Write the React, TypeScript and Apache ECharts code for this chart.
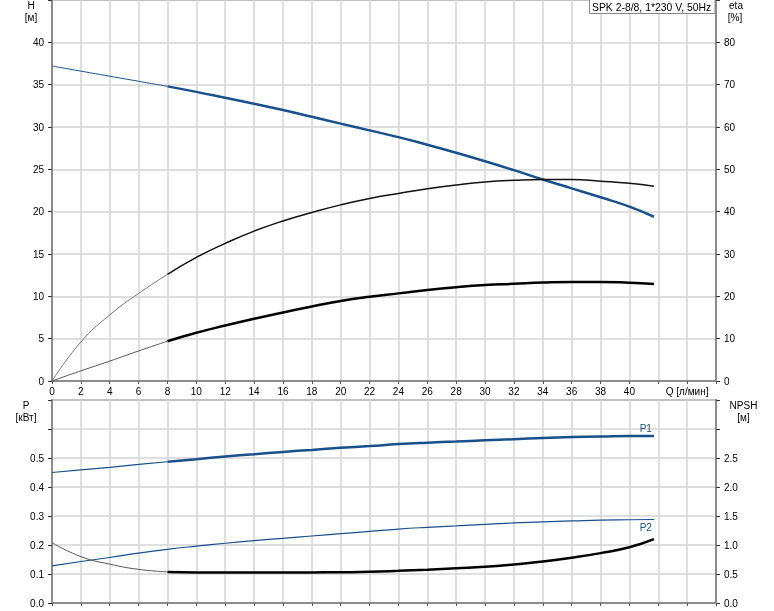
import React, { useEffect, useRef } from "react";
import * as echarts from "echarts";

// Flow rate Q [л/мин]
const Q = [0, 2, 4, 6, 8, 10, 12, 14, 16, 18, 20, 22, 24, 26, 28, 30, 32, 34, 36, 38, 40, 41.7];
// Head H [м]
const H = [37.2, 36.6, 36.0, 35.4, 34.8, 34.15, 33.45, 32.74, 32.0, 31.2, 30.4, 29.6, 28.8, 27.9, 26.95, 25.95, 24.9, 23.8, 22.75, 21.7, 20.6, 19.4];
// Efficiency (pump) eta [%]
const ETA_PUMP = [0, 9.2, 15.6, 20.7, 25.2, 29.2, 32.5, 35.4, 37.8, 39.8, 41.6, 43.1, 44.3, 45.4, 46.3, 47.0, 47.4, 47.6, 47.6, 47.2, 46.7, 46.0];
// Efficiency (total) eta [%]
const ETA_TOTAL = [0, 2.4, 4.7, 7.1, 9.4, 11.4, 13.1, 14.7, 16.2, 17.6, 18.9, 19.9, 20.7, 21.5, 22.15, 22.65, 22.95, 23.25, 23.4, 23.4, 23.2, 22.9];
// Power P1, P2 [кВт]
const P1 = [0.45, 0.459, 0.468, 0.478, 0.487, 0.496, 0.505, 0.513, 0.521, 0.528, 0.535, 0.541, 0.548, 0.553, 0.557, 0.561, 0.565, 0.569, 0.572, 0.574, 0.576, 0.576];
const P2 = [0.128, 0.143, 0.157, 0.172, 0.185, 0.196, 0.206, 0.215, 0.223, 0.231, 0.239, 0.247, 0.255, 0.261, 0.266, 0.271, 0.276, 0.28, 0.283, 0.286, 0.287, 0.288];
// NPSH [м]
const NPSH = [1.04, 0.8, 0.67, 0.58, 0.536, 0.527, 0.525, 0.525, 0.525, 0.527, 0.53, 0.537, 0.554, 0.575, 0.6, 0.625, 0.665, 0.715, 0.78, 0.86, 0.96, 1.1];

const SPLIT_Q = 8;
const TITLE = "SPK 2-8/8, 1*230 V, 50Hz";
const Q_NAME = "Q [л/мин]";

const BLUE = "#17508c";
const FONT = "'Liberation Sans', Arial, sans-serif";
const AXIS_GRAY = "#8c8c8c";
const GRID_GRAY = "#d4d4d4";

function seg(values: number[], from: number, to: number) {
  const out: number[][] = [];
  Q.forEach((q, i) => {
    if (q >= from && q <= to) out.push([q, values[i]]);
  });
  return out;
}

export default function App() {
  const ref = useRef<HTMLDivElement>(null);
  useEffect(() => {
    if (!ref.current) return;
    const chart = echarts.init(ref.current, undefined, { renderer: "svg" });
    const qMax = Q[Q.length - 1];

    const xAxisBase = (gridIndex: number, showLabels: boolean) => ({
      type: "value",
      gridIndex,
      min: 0,
      max: 46,
      interval: 2,
      axisLine: { show: true, onZero: false, lineStyle: { color: AXIS_GRAY, width: 2 } },
      axisTick: { show: true, length: 3, lineStyle: { color: "#555" } },
      splitLine: { show: true, lineStyle: { color: GRID_GRAY, width: 1.5 } },
      axisLabel: {
        show: showLabels,
        margin: 5,
        fontSize: 10,
        fontFamily: FONT,
        color: "#000",
        formatter: (v: number) => (v <= 40 ? String(v) : v === 44 ? Q_NAME : ""),
      },
    });

    const yAxisBase = (gridIndex: number, position: string, max: number, interval: number, labelMax: number, decimals: number, split: boolean) => ({
      type: "value",
      gridIndex,
      position,
      min: 0,
      max,
      interval,
      axisLine: { show: true, onZero: false, lineStyle: { color: AXIS_GRAY, width: 2 } },
      axisTick: { show: true, length: 4, lineStyle: { color: "#333" } },
      splitLine: { show: split, lineStyle: { color: GRID_GRAY, width: 1.5 } },
      axisLabel: {
        margin: 8,
        fontSize: 10,
        fontFamily: FONT,
        color: "#000",
        formatter: (v: number) => (v <= labelMax + 1e-9 ? v.toFixed(decimals) : ""),
      },
    });

    const line = (name: string, data: number[][], xi: number, yi: number, color: string, width: number, extra: any = {}) => ({
      name,
      type: "line",
      xAxisIndex: xi,
      yAxisIndex: yi,
      data,
      smooth: 0.5,
      symbol: "none",
      lineStyle: { color, width },
      z: 5,
      ...extra,
    });

    const option: any = {
      animation: false,
      textStyle: { fontFamily: FONT },
      grid: [
        { left: 52, right: 58, top: 0, height: 381, show: true, borderColor: AXIS_GRAY, borderWidth: 2, backgroundColor: "transparent" },
        { left: 52, right: 58, top: 400, height: 203, show: true, borderColor: AXIS_GRAY, borderWidth: 2, backgroundColor: "transparent" },
      ],
      xAxis: [xAxisBase(0, true), xAxisBase(1, false)],
      yAxis: [
        yAxisBase(0, "left", 45, 5, 40, 0, true),
        yAxisBase(0, "right", 90, 10, 80, 0, false),
        yAxisBase(1, "left", 0.7, 0.1, 0.5, 1, true),
        yAxisBase(1, "right", 3.5, 0.5, 2.5, 1, false),
      ],
      series: [
        line("H-thin", seg(H, 0, SPLIT_Q), 0, 0, BLUE, 1),
        line("H", seg(H, SPLIT_Q, qMax), 0, 0, BLUE, 2.5),
        line("eta-thin", seg(ETA_PUMP, 0, SPLIT_Q), 0, 1, "#777", 1),
        line("eta", seg(ETA_PUMP, SPLIT_Q, qMax), 0, 1, "#111", 1.5),
        line("eta-total-thin", seg(ETA_TOTAL, 0, SPLIT_Q), 0, 1, "#555", 1),
        line("eta-total", seg(ETA_TOTAL, SPLIT_Q, qMax), 0, 1, "#000", 2.5),
        line("P1-thin", seg(P1, 0, SPLIT_Q), 1, 2, BLUE, 1.2),
        line("P1", seg(P1, SPLIT_Q, qMax), 1, 2, BLUE, 2.5, {
          endLabel: { show: true, formatter: "P1", color: BLUE, fontSize: 10, fontFamily: FONT, align: "right", verticalAlign: "bottom", distance: 0, offset: [-2, -2] },
        }),
        line("P2", seg(P2, 0, qMax), 1, 2, BLUE, 1.2, {
          endLabel: { show: true, formatter: "P2", color: BLUE, fontSize: 10, fontFamily: FONT, align: "right", verticalAlign: "top", distance: 0, offset: [-2, 3] },
        }),
        line("NPSH-thin", seg(NPSH, 0, SPLIT_Q), 1, 3, "#555", 1),
        line("NPSH", seg(NPSH, SPLIT_Q, qMax), 1, 3, "#000", 2.5),
      ],
      graphic: [
        { type: "text", x: 31, y: 5, style: { text: "H", fill: "#000", font: `10px ${FONT}`, align: "center", verticalAlign: "middle" } },
        { type: "text", x: 31, y: 17, style: { text: "[м]", fill: "#000", font: `10px ${FONT}`, align: "center", verticalAlign: "middle" } },
        { type: "text", x: 736, y: 5, style: { text: "eta", fill: "#000", font: `10px ${FONT}`, align: "center", verticalAlign: "middle" } },
        { type: "text", x: 735, y: 17, style: { text: "[%]", fill: "#000", font: `10px ${FONT}`, align: "center", verticalAlign: "middle" } },
        { type: "text", x: 26, y: 405, style: { text: "P", fill: "#000", font: `10px ${FONT}`, align: "center", verticalAlign: "middle" } },
        { type: "text", x: 26, y: 417, style: { text: "[кВт]", fill: "#000", font: `10px ${FONT}`, align: "center", verticalAlign: "middle" } },
        { type: "text", x: 743.5, y: 405, style: { text: "NPSH", fill: "#000", font: `10px ${FONT}`, align: "center", verticalAlign: "middle" } },
        { type: "text", x: 743.5, y: 417, style: { text: "[м]", fill: "#000", font: `10px ${FONT}`, align: "center", verticalAlign: "middle" } },
        {
          type: "rect",
          shape: { x: 589.5, y: -1, width: 125.5, height: 14.5 },
          style: { fill: "#fff", stroke: "#888", lineWidth: 1 },
          z: 10,
        },
        { type: "text", x: 592, y: 7, z: 11, style: { text: TITLE, fill: "#000", font: `10.4px ${FONT}`, align: "left", verticalAlign: "middle" } },
      ],
    };
    chart.setOption(option);
    return () => chart.dispose();
  }, []);

  return <div ref={ref} style={{ position: "fixed", left: 0, top: 0, width: 774, height: 611 }} />;
}
